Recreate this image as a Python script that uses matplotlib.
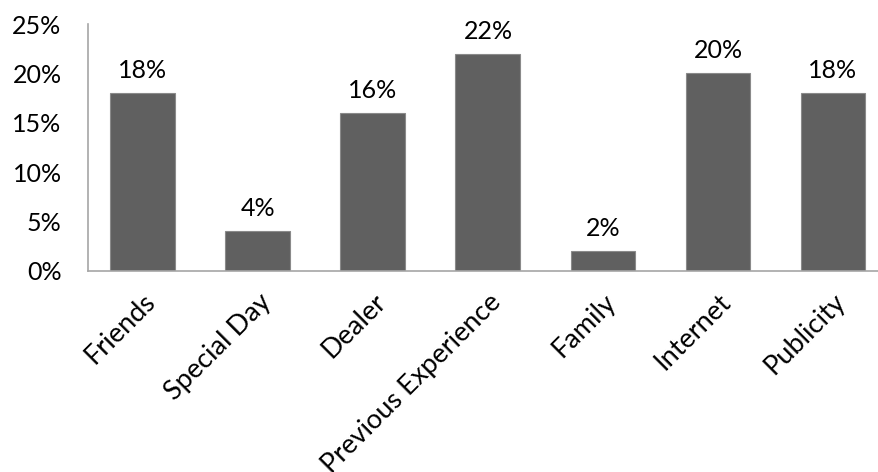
import matplotlib
matplotlib.use("Agg")
import matplotlib.pyplot as plt
from matplotlib.ticker import FuncFormatter

categories = ["Friends", "Special Day", "Dealer", "Previous Experience", "Family", "Internet", "Publicity"]
values = [18, 4, 16, 22, 2, 20, 18]
yticks = [0, 5, 10, 15, 20, 25]

plt.rcParams['font.family'] = ['Lato', 'DejaVu Sans']

fig = plt.figure(figsize=(8.79, 4.72), dpi=100)
ax = fig.add_axes([88/879, (472-271)/472, (879-88)/879, 247/472])

x = list(range(len(categories)))
bars = ax.bar(x, values, width=0.565, color='#606060', edgecolor='#8a8a8a', linewidth=0.8)

for xi, v in zip(x, values):
    ax.annotate(f"{v}%", (xi, v), xytext=(0, 8), textcoords='offset points',
                ha='center', va='bottom', fontsize=18, color='black')

ax.set_xlim(-0.478, 6.4)
ax.set_ylim(0, 25)
ax.set_yticks(yticks)
ax.yaxis.set_major_formatter(FuncFormatter(lambda v, p: f"{int(v)}%"))
ax.set_xticks(x)
ax.set_xticklabels(categories, rotation=45, ha='right', rotation_mode='anchor', fontsize=19.5)
ax.tick_params(axis='y', length=0, pad=19, labelsize=18)
ax.tick_params(axis='x', length=0, pad=13)

for s in ['top', 'right']:
    ax.spines[s].set_visible(False)
for s in ['left', 'bottom']:
    ax.spines[s].set_color('#a6a6a6')
    ax.spines[s].set_linewidth(1.2)

fig.savefig("out.png", dpi=100)
